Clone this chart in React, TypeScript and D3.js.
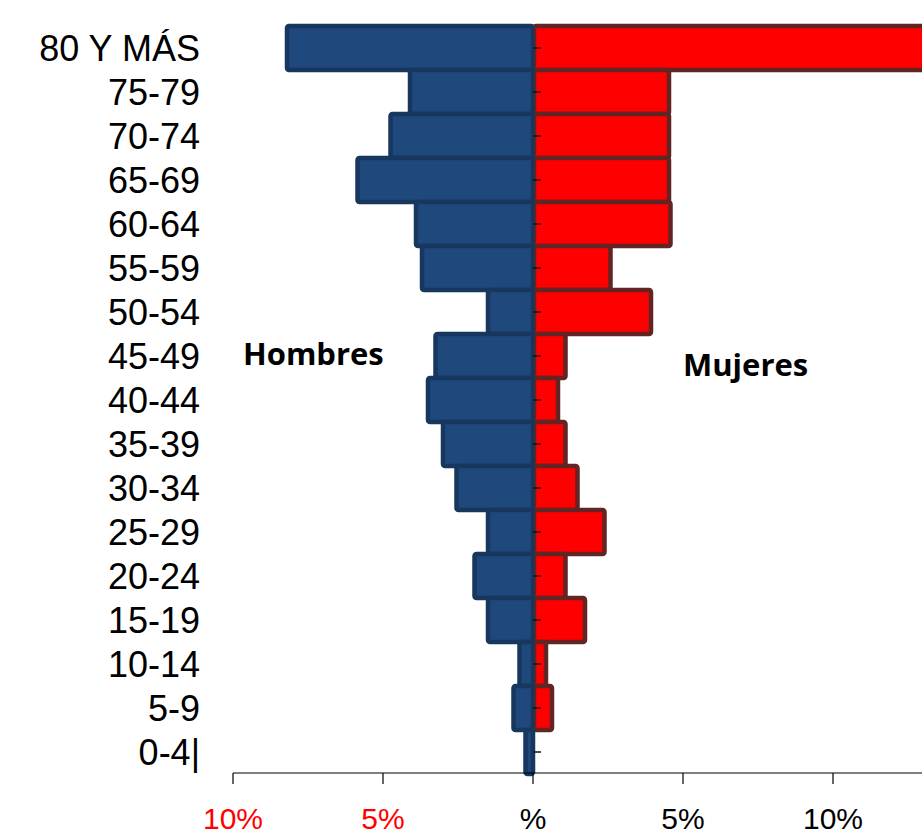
import * as d3 from "d3";

const WIDTH = 922;
const HEIGHT = 833;
const MARGIN = { top: 26, left: 233, bottom: 774 };

// Age groups, top to bottom
const AGES = [
  "80 Y MÁS", "75-79", "70-74", "65-69", "60-64", "55-59", "50-54", "45-49",
  "40-44", "35-39", "30-34", "25-29", "20-24", "15-19", "10-14", "5-9", "0-4|",
];
// Percent of population per group
const MEN = [8.2, 4.1, 4.75, 5.85, 3.9, 3.7, 1.5, 3.25, 3.5, 3.0, 2.55, 1.5, 1.95, 1.5, 0.45, 0.65, 0.25];
const WOMEN = [14, 4.5, 4.5, 4.5, 4.55, 2.55, 3.9, 1.05, 0.8, 1.05, 1.45, 2.35, 1.05, 1.7, 0.4, 0.6, 0];

const TICKS = [-10, -5, 0, 5, 10];
const TICK_LABELS = ["10%", "5%", "%", "5%", "10%"];

const MEN_FILL = "#1f497d";
const MEN_STROKE = "#17375e";
const WOMEN_FILL = "#ff0000";
const WOMEN_STROKE = "#632523";

export default function App() {
  const x = d3.scaleLinear().domain([-10, 15]).range([MARGIN.left, MARGIN.left + 750]);
  const y = d3.scaleBand<string>().domain(AGES).range([MARGIN.top, MARGIN.bottom]).padding(0);
  const bw = y.bandwidth();
  const x0 = x(0);

  return (
    <div style={{ position: "absolute", left: 0, top: 0 }}>
      <svg width={WIDTH} height={HEIGHT} viewBox={`0 0 ${WIDTH} ${HEIGHT}`} style={{ display: "block" }}>
        <rect width={WIDTH} height={HEIGHT} fill="#fff" />

        {AGES.map((a, i) => (
          <g key={a}>
            {MEN[i] > 0 && (
              <rect
                x={x(-MEN[i])}
                y={y(a)!}
                width={x0 - x(-MEN[i])}
                height={bw}
                rx={2}
                fill={MEN_FILL}
                stroke={MEN_STROKE}
                strokeWidth={4.5}
              />
            )}
            {WOMEN[i] > 0 && (
              <rect
                x={x0 + 1}
                y={y(a)!}
                width={x(WOMEN[i]) - x0}
                height={bw}
                rx={2}
                fill={WOMEN_FILL}
                stroke={WOMEN_STROKE}
                strokeWidth={4.5}
              />
            )}
          </g>
        ))}

        {/* central axis */}
        <line x1={x0} x2={x0} y1={MARGIN.top} y2={MARGIN.bottom} stroke={MEN_STROKE} strokeWidth={3} />
        {AGES.map((a) => (
          <line
            key={"t" + a}
            x1={x0}
            x2={x0 + 8}
            y1={y(a)! + bw / 2}
            y2={y(a)! + bw / 2}
            stroke="#111"
            strokeWidth={1.5}
          />
        ))}

        {/* category labels */}
        {AGES.map((a) => (
          <text
            key={"l" + a}
            x={200}
            y={y(a)! + bw / 2}
            dy="0.36em"
            textAnchor="end"
            fontFamily="Liberation Sans, Arial, sans-serif"
            fontSize={36}
            fill="#000"
          >
            {a}
          </text>
        ))}

        {/* bottom axis */}
        <line x1={x(-10)} x2={WIDTH} y1={MARGIN.bottom - 1} y2={MARGIN.bottom - 1} stroke="#000" strokeWidth={1.2} />
        {TICKS.map((t, i) => (
          <g key={"x" + t}>
            <line x1={x(t)} x2={x(t)} y1={MARGIN.bottom - 1} y2={MARGIN.bottom + 10} stroke="#000" strokeWidth={1.2} />
            <text
              x={x(t)}
              y={829}
              textAnchor="middle"
              fontFamily="Liberation Sans, Arial, sans-serif"
              fontSize={30}
              fill={t < 0 ? "#ff0000" : "#000"}
            >
              {TICK_LABELS[i]}
            </text>
          </g>
        ))}

        {/* series labels */}
        <text x={243} y={365} fontFamily="Open Sans, sans-serif" fontWeight="bold" fontSize={31} fill="#000">
          Hombres
        </text>
        <text x={683} y={376} fontFamily="Open Sans, sans-serif" fontWeight="bold" fontSize={31} fill="#000">
          Mujeres
        </text>
      </svg>
    </div>
  );
}
